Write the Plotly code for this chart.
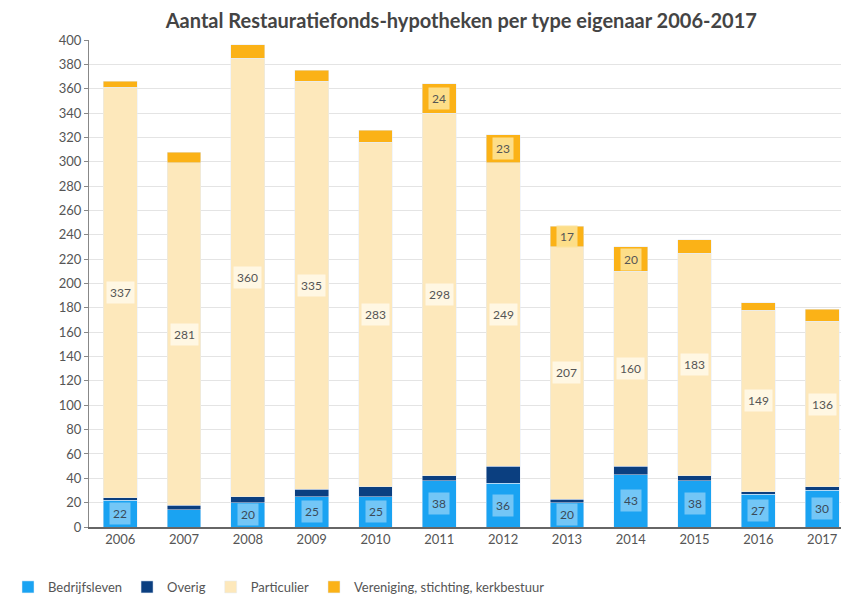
import plotly.graph_objects as go

jaren = ["2006", "2007", "2008", "2009", "2010", "2011",
         "2012", "2013", "2014", "2015", "2016", "2017"]
bedrijfsleven = [22, 14, 20, 25, 25, 38, 36, 20, 43, 38, 27, 30]
overig = [2, 4, 5, 6, 8, 4, 14, 3, 7, 4, 2, 3]
particulier = [337, 281, 360, 335, 283, 298, 249, 207, 160, 183, 149, 136]
vereniging = [5, 9, 11, 9, 10, 24, 23, 17, 20, 11, 6, 10]

# which labels are shown in the original
toon_bedrijf = [True, False, True, True, True, True, True, True, True, True, True, True]
toon_vereniging = [False, False, False, False, False, True, True, True, True, False, False, False]

fig = go.Figure()
fig.add_trace(go.Bar(x=jaren, y=bedrijfsleven, name="Bedrijfsleven", marker_color="#1aa3f2"))
fig.add_trace(go.Bar(x=jaren, y=overig, name="Overig", marker_color="#0b3f80"))
fig.add_trace(go.Bar(x=jaren, y=particulier, name="Particulier", marker_color="#fde8bb"))
fig.add_trace(go.Bar(x=jaren, y=vereniging, name="Vereniging, stichting, kerkbestuur",
                     marker_color="#fbb217"))

# annotations use the category index (numeric-looking strings would be read as indices)
for i, jaar in enumerate(jaren):
    if toon_bedrijf[i]:
        fig.add_annotation(x=i, y=bedrijfsleven[i] / 2, text=str(bedrijfsleven[i]),
                           showarrow=False, bgcolor="rgba(190,228,250,0.55)",
                           borderpad=3, font=dict(size=12, color="#3a4a5a"))
    basis = bedrijfsleven[i] + overig[i]
    fig.add_annotation(x=i, y=basis + particulier[i] / 2, text=str(particulier[i]),
                       showarrow=False, bgcolor="rgba(255,250,238,0.8)",
                       borderpad=3, font=dict(size=12, color="#555"))
    if toon_vereniging[i]:
        top = basis + particulier[i]
        fig.add_annotation(x=i, y=top + vereniging[i] / 2, text=str(vereniging[i]),
                           showarrow=False, bgcolor="rgba(253,226,150,0.9)",
                           borderpad=3, font=dict(size=12, color="#555"))

# the page body adds an 8px margin, so the figure is made 8px smaller
fig.update_layout(
    barmode="stack",
    bargap=0.47,
    width=841, height=589,
    margin=dict(l=81, r=0, t=32, b=70),
    plot_bgcolor="white", paper_bgcolor="white",
    font=dict(family="Lato", color="#555"),
    title=dict(text="<b>Aantal Restauratiefonds-hypotheken per type eigenaar 2006-2017</b>",
               xref="container", yref="container",
               x=0.539, xanchor="center", y=0.978, yanchor="middle",
               font=dict(size=20, color="#444")),
    legend=dict(orientation="h", xref="container", yref="container",
                x=-0.015, xanchor="left", y=0.017, yanchor="middle",
                font=dict(size=13, color="#555"), traceorder="normal",
                itemwidth=30),
    showlegend=True,
)
fig.update_xaxes(type="category", range=[-0.49, 11.42], showline=True,
                 linecolor="#666", linewidth=1.5,
                 tickfont=dict(size=13, color="#555"))
fig.update_yaxes(range=[0, 400], dtick=20, showgrid=True, gridcolor="#e4e4e4",
                 showline=True, linecolor="#888", ticks="outside", ticklen=4,
                 tickcolor="#888", tickfont=dict(size=13, color="#555"), zeroline=False)

fig.write_html("out.html")
